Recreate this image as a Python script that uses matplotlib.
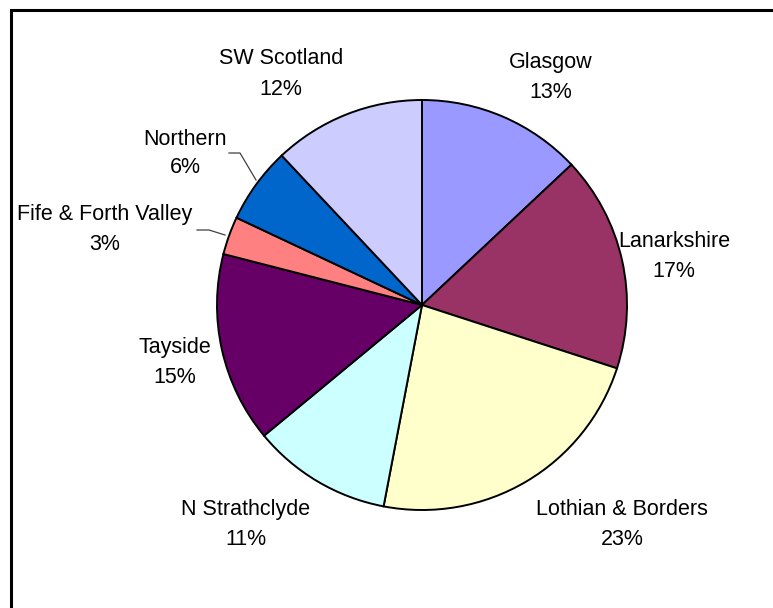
import matplotlib
matplotlib.use("Agg")
import matplotlib.pyplot as plt

# ---- data ----
regions = ["Glasgow", "Lanarkshire", "Lothian & Borders", "N Strathclyde",
           "Tayside", "Fife & Forth Valley", "Northern", "SW Scotland"]
shares = [13, 17, 23, 11, 15, 3, 6, 12]
colors = ["#9999FF", "#993366", "#FFFFCC", "#CCFFFF",
          "#660066", "#FF8080", "#0066CC", "#CCCCFF"]

# ---- layout (pixels) ----
W, H, DPI = 773, 608, 100
CX, CY, R = 422, 305, 205
label_pos = {  # (center x, name baseline, pct baseline)
    "Glasgow": (551, 68, 98),
    "Lanarkshire": (674, 247, 277),
    "Lothian & Borders": (622, 515, 545),
    "N Strathclyde": (246, 515, 545),
    "Tayside": (175, 353, 383),
    "Fife & Forth Valley": (105, 220, 250),
    "Northern": (185, 145, 173),
    "SW Scotland": (281, 64, 95),
}
leaders = {
    "Fife & Forth Valley": [(197, 230), (209, 230), (225, 235)],
    "Northern": [(229, 153), (240, 153), (256, 180)],
}

plt.rcParams["font.family"] = ["Liberation Sans", "DejaVu Sans"]
fig = plt.figure(figsize=(W / DPI, H / DPI), dpi=DPI)
fig.patch.set_facecolor("white")

# pie axes
ax = fig.add_axes([(CX - R) / W, (H - CY - R) / H, 2 * R / W, 2 * R / H])
ax.pie(shares, colors=colors, startangle=90, counterclock=False, radius=1,
       wedgeprops=dict(edgecolor="black", linewidth=1.4))
ax.set_xlim(-1.01, 1.01)
ax.set_ylim(-1.01, 1.01)
ax.set_aspect("equal")
ax.axis("off")
# adjust so radius maps to R exactly
ax.set_position([(CX - R * 1.01) / W, (H - CY - R * 1.01) / H, 2.02 * R / W, 2.02 * R / H])

# overlay axes in pixel coords
ov = fig.add_axes([0, 0, 1, 1], facecolor="none")
ov.set_xlim(0, W)
ov.set_ylim(H, 0)
ov.axis("off")

total = sum(shares)
fs = 15.5
for name, v in zip(regions, shares):
    x, yn, yp = label_pos[name]
    ov.text(x, yn, name, ha="center", va="baseline", fontsize=fs, color="black")
    ov.text(x, yp, f"{v / total * 100:.0f}%", ha="center", va="baseline",
            fontsize=fs, color="black")

for name, pts in leaders.items():
    xs, ys = zip(*pts)
    ov.plot(xs, ys, color="#404040", linewidth=0.9)

# chart frame (cropped: only left and top edges visible)
ov.plot([10.5, 10.5, W + 5], [H + 5, 9.5, 9.5], color="black", linewidth=2.2,
        solid_joinstyle="miter")

fig.savefig("out.png", dpi=DPI)
